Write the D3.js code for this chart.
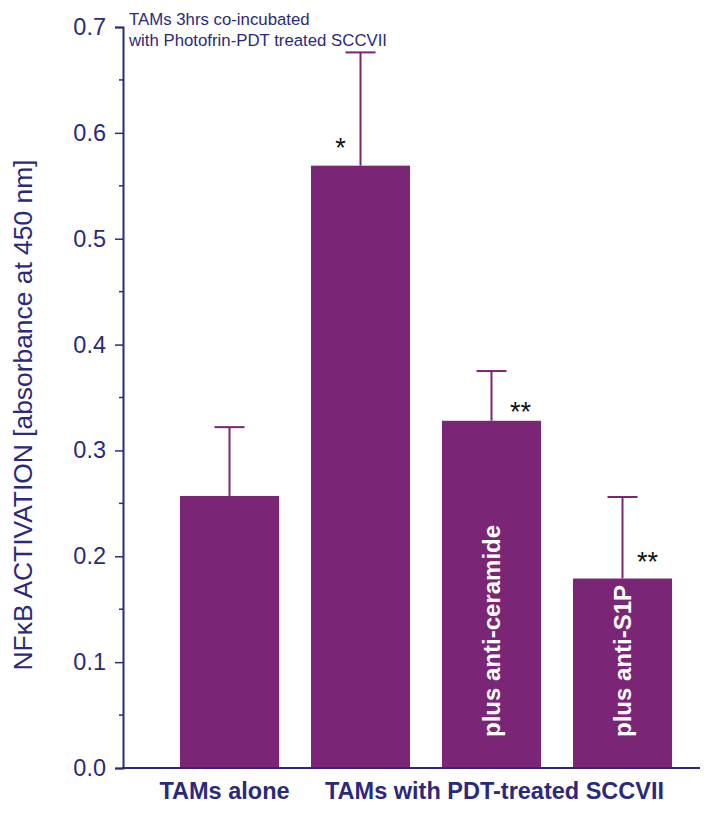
<!DOCTYPE html>
<html>
<head>
<meta charset="utf-8">
<script src="https://cdn.jsdelivr.net/npm/d3@7"></script>
<style>
  body { margin: 0; background: #fff; }
  text { font-family: "Liberation Sans", Arial, sans-serif; }
</style>
</head>
<body>
<div id="chart"></div>
<script>
var groups = ["alone", "pdt", "ceramide", "s1p"];
var values = [0.257, 0.569, 0.328, 0.179];
var errors = [0.065, 0.107, 0.047, 0.077];
var barLabels = ["", "", "plus anti-ceramide", "plus anti-S1P"];
var stars = ["", "*", "**", "**"];
var yTicks = [0, 0.1, 0.2, 0.3, 0.4, 0.5, 0.6, 0.7];

var width = 714, height = 813;
var navy = "#2c2a78", purple = "#7b2577";

var svg = d3.select("#chart").append("svg")
  .attr("width", width)
  .attr("height", height);

var x = d3.scaleBand().domain(groups).range([164, 688])
  .paddingInner(0.244).paddingOuter(0.122);
var y = d3.scaleLinear().domain([0, 0.7]).range([768, 27]);

function mid(i) { return x(groups[i]) + x.bandwidth() / 2 }

// bars
svg.selectAll(".bar")
  .data(values)
  .enter().append("rect")
  .attr("class", "bar")
  .attr("x", function(d, i) { return x(groups[i]) })
  .attr("width", x.bandwidth())
  .attr("y", function(d) { return y(d) })
  .attr("height", function(d) { return y(0) - y(d) })
  .attr("fill", purple);

// error bars, upper half only
var err = svg.selectAll(".err")
  .data(values)
  .enter().append("g")
  .attr("class", "err")
  .attr("stroke", purple)
  .attr("stroke-width", 2);
err.append("line")
  .attr("x1", function(d, i) { return mid(i) })
  .attr("x2", function(d, i) { return mid(i) })
  .attr("y1", function(d) { return y(d) })
  .attr("y2", function(d, i) { return y(d + errors[i]) });
err.append("line")
  .attr("x1", function(d, i) { return mid(i) - 15 })
  .attr("x2", function(d, i) { return mid(i) + 15 })
  .attr("y1", function(d, i) { return y(d + errors[i]) })
  .attr("y2", function(d, i) { return y(d + errors[i]) });

// significance stars
var starDx = [0, -20, 29, 25], starDy = [0, 9, 0, 8];
svg.selectAll(".star")
  .data(values)
  .enter().append("text")
  .attr("class", "star")
  .attr("x", function(d, i) { return mid(i) + starDx[i] })
  .attr("y", function(d, i) { return y(d) - starDy[i] })
  .attr("text-anchor", "middle")
  .attr("font-size", 27)
  .attr("fill", "#111")
  .text(function(d, i) { return stars[i] });

// rotated labels inside bars
svg.selectAll(".inlabel")
  .data(barLabels)
  .enter().append("text")
  .attr("class", "inlabel")
  .attr("transform", function(d, i) {
    return "translate(" + (mid(i) + 8) + "," + (y(0) - 31) + ") rotate(-90)"
  })
  .attr("font-size", 24)
  .attr("font-weight", "bold")
  .attr("fill", "#fff")
  .text(function(d) { return d });

// y axis
var yAxis = d3.axisLeft(y).tickValues(yTicks).tickSize(8).tickPadding(9)
  .tickFormat(d3.format(".1f"));
var gy = svg.append("g").attr("transform", "translate(123,0)").call(yAxis);
gy.select(".domain").attr("stroke", navy).attr("stroke-width", 2);
gy.selectAll(".tick line").attr("stroke", navy).attr("stroke-width", 1.5);
gy.selectAll(".tick text").attr("fill", navy).attr("font-size", 23.5)
  .attr("font-family", null);

// minor ticks
var minor = d3.range(0.05, 0.7, 0.1);
svg.selectAll(".minor")
  .data(minor)
  .enter().append("line")
  .attr("x1", 119).attr("x2", 123)
  .attr("y1", function(d) { return y(d) })
  .attr("y2", function(d) { return y(d) })
  .attr("stroke", navy).attr("stroke-width", 1.5);

// x axis line
svg.append("line")
  .attr("x1", 122).attr("x2", 700)
  .attr("y1", y(0)).attr("y2", y(0))
  .attr("stroke", navy).attr("stroke-width", 2);

// category labels
svg.append("text")
  .attr("x", mid(0) - 5)
  .attr("y", 799)
  .attr("text-anchor", "middle")
  .attr("font-size", 23.5).attr("font-weight", "bold")
  .attr("fill", navy)
  .text("TAMs alone");
svg.append("text")
  .attr("x", 325)
  .attr("y", 799)
  .attr("font-size", 23.5).attr("font-weight", "bold")
  .attr("fill", navy)
  .text("TAMs with PDT-treated SCCVII");

// y title
svg.append("text")
  .attr("transform", "translate(32,415) rotate(-90)")
  .attr("text-anchor", "middle")
  .attr("font-size", 26.4)
  .attr("fill", navy)
  .text("NFκB ACTIVATION [absorbance at 450 nm]");

// annotation
svg.append("text")
  .attr("x", 129).attr("y", 25)
  .attr("font-size", 16.8).attr("fill", navy)
  .text("TAMs 3hrs co-incubated");
svg.append("text")
  .attr("x", 129).attr("y", 46)
  .attr("font-size", 16.8).attr("fill", navy)
  .text("with Photofrin-PDT treated SCCVII");
</script>
</body>
</html>
